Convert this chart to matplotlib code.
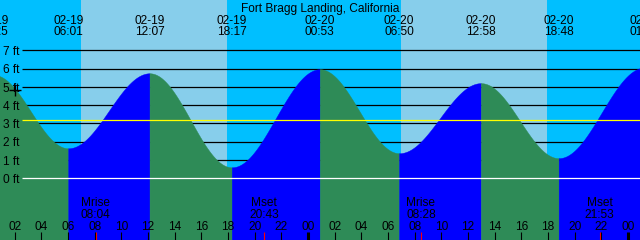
import matplotlib.pyplot as plt
import matplotlib.transforms as mtransforms
import numpy as np

plt.rcParams["font.family"] = ["Liberation Sans", "DejaVu Sans"]

title = "Fort Bragg Landing, California"

# tide extremes (hours from 02-19 00:00)
tide_dates = ["02-19", "02-19", "02-19", "02-19", "02-20", "02-20", "02-20", "02-20", "02-21"]
tide_clock = ["00:25", "06:01", "12:07", "18:17", "00:53", "06:50", "12:58", "18:48", "01:14"]
tide_heights = [5.65, 1.64, 5.74, 0.60, 5.96, 1.37, 5.20, 1.10, 6.05]

sun_rise = ["02-19 07:00", "02-20 06:59"]
sun_set = ["02-19 17:57", "02-20 17:57"]

moon_labels = ["Mrise", "Mset", "Mrise", "Mset"]
moon_times = ["02-19 08:04", "02-19 20:43", "02-20 08:28", "02-20 21:53"]

ft_levels = [0, 1, 2, 3, 4, 5, 6, 7]
mean_level = 3.17
now_time = "02-19 02:03"
now_height = 4.83


def to_hours(s):
    d, hm = s.split(" ")
    day = int(d.split("-")[1]) - 19
    h, m = hm.split(":")
    return day * 24 + int(h) + int(m) / 60


tide_t = [to_hours(f"{d} {c}") for d, c in zip(tide_dates, tide_clock)]

W, H = 640, 240
PX_PER_H = 640 / 48
X0 = 0.90
FT0_PX = 178.3
PX_PER_FT = 18.3
FS = 8.6


def fy(p):
    return 1 - p / H


fig = plt.figure(figsize=(6.4, 2.4), dpi=100)
ax = fig.add_axes([0, 0, 1, 1])
ax.set_axis_off()
ax.set_xlim(X0, X0 + 48)
ax.set_ylim((FT0_PX - H) / PX_PER_FT, FT0_PX / PX_PER_FT)
blend = mtransforms.blended_transform_factory(ax.transData, ax.transAxes)
blend_y = mtransforms.blended_transform_factory(ax.transAxes, ax.transData)

# night / day background
ax.axvspan(X0 - 1, X0 + 49, color="#00bfff", lw=0, zorder=0)
for r, s in zip(sun_rise, sun_set):
    ax.axvspan(to_hours(r), to_hours(s), color="#87ceeb", lw=0, zorder=0)

line_start = X0 + 22 / PX_PER_H
ax.hlines([v for v in ft_levels if v > 0], line_start, X0 + 49, color="black", lw=0.9, zorder=1)

# tide fill: blue while rising, green while falling
bottom = (FT0_PX - H) / PX_PER_FT - 1
for i in range(len(tide_t) - 1):
    t0, t1 = tide_t[i], tide_t[i + 1]
    h0, h1 = tide_heights[i], tide_heights[i + 1]
    t = np.linspace(t0, t1, 200)
    h = h0 + (h1 - h0) * (1 - np.cos(np.pi * (t - t0) / (t1 - t0))) / 2
    col = "#0000ff" if h1 > h0 else "#2e8b57"
    ax.fill_between(t, h, bottom, color=col, lw=0.3, edgecolor=col, zorder=2)

ax.hlines(0, line_start, X0 + 49, color="white", lw=0.9, zorder=3)
ax.hlines(mean_level, line_start, X0 + 49, color="#ffff00", lw=0.9, zorder=3)

ax.plot(to_hours(now_time), now_height, marker="+", ms=8, mew=1, color="black", zorder=4)

for v in ft_levels:
    ax.text(2.7 / W, v - 4.7 / PX_PER_FT, f"{v} ft", transform=blend_y,
            ha="left", va="baseline", fontsize=FS, zorder=5)

ax.text(0.5, fy(12.3), title, transform=ax.transAxes, ha="center", va="baseline",
        fontsize=FS, zorder=5)
for t, d, c in zip(tide_t, tide_dates, tide_clock):
    ax.text(t, fy(24), d, transform=blend, ha="center", va="baseline", fontsize=FS, zorder=5)
    ax.text(t, fy(35), c, transform=blend, ha="center", va="baseline", fontsize=FS, zorder=5)

for lab, mt in zip(moon_labels, moon_times):
    t = to_hours(mt)
    ax.text(t, fy(206), lab, transform=blend, ha="center", va="baseline", fontsize=FS, zorder=5)
    ax.text(t, fy(218.3), mt.split(" ")[1], transform=blend, ha="center", va="baseline",
            fontsize=FS, zorder=5)
    ax.vlines(t, 0, (H - 231.7) / H, transform=blend, color="red", lw=0.8, zorder=5)

# hour ticks along the bottom
for hr in range(2, 49, 2):
    lw = 2.2 if hr % 24 == 0 else 0.8
    ax.vlines(hr, 0, (H - 231.7) / H, transform=blend, color="black", lw=lw, zorder=5)
    ax.text(hr, fy(230), f"{hr % 24:02d}", transform=blend, ha="center", va="baseline",
            fontsize=FS, zorder=5)

fig.savefig("out.png", dpi=100)
